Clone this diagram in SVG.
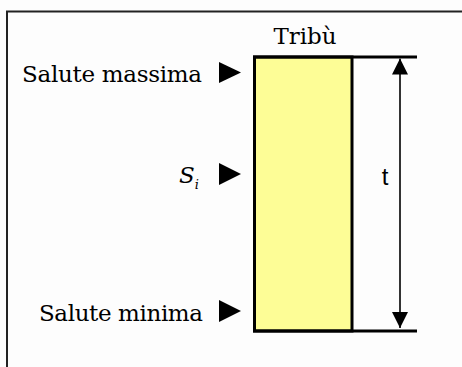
<svg xmlns="http://www.w3.org/2000/svg" width="462" height="367" viewBox="0 0 462 367">
<style>
.lbl{font-family:"DejaVu Serif","Liberation Serif",serif;font-size:23px;fill:#000}
.ln{stroke:#000;stroke-width:3;fill:none}
.tri{fill:#000}
</style>
<defs>
<marker id="ah" viewBox="0 0 16 16" refX="16" refY="8" markerWidth="16" markerHeight="16" markerUnits="userSpaceOnUse" orient="auto">
<path d="M0,0 L16,8 L0,16 Z" fill="#000"/>
</marker>
</defs>
<rect x="0" y="0" width="462" height="367" fill="#fdfdfd"/>
<rect x="7" y="11.5" width="470" height="370" fill="none" stroke="#222" stroke-width="2"/>
<g id="tribu">
<rect x="254.5" y="57" width="97.5" height="274" fill="#fdfd96" stroke="#000" stroke-width="3"/>
<text class="lbl" x="305" y="44" text-anchor="middle" textLength="63">Tribù</text>
</g>
<g id="lines">
<line class="ln" x1="253" y1="57" x2="417" y2="57"/>
<line class="ln" x1="253" y1="331" x2="417" y2="331"/>
</g>
<g id="connectors">
<line x1="400" y1="194" x2="400" y2="58.5" stroke="#333" stroke-width="2" marker-end="url(#ah)"/>
<line x1="400" y1="194" x2="400" y2="328" stroke="#333" stroke-width="2" marker-end="url(#ah)"/>
</g>
<g id="t-label">
<text x="385" y="185" font-family="Liberation Sans, Arial, sans-serif" font-size="24" text-anchor="middle">t</text>
</g>
<g id="salute-massima">
<text class="lbl" x="202" y="82" text-anchor="end" textLength="180">Salute massima</text>
<polygon class="tri" points="219,62 241,72.5 219,83"/>
</g>
<g id="si">
<text class="lbl" x="179" y="183" font-style="italic" font-size="21">S<tspan font-size="13" dy="6">i</tspan></text>
<polygon class="tri" points="219,163 241,174 219,185"/>
</g>
<g id="salute-minima">
<text class="lbl" x="203" y="321" text-anchor="end" textLength="164">Salute minima</text>
<polygon class="tri" points="219,300 241,311 219,322"/>
</g>
</svg>
